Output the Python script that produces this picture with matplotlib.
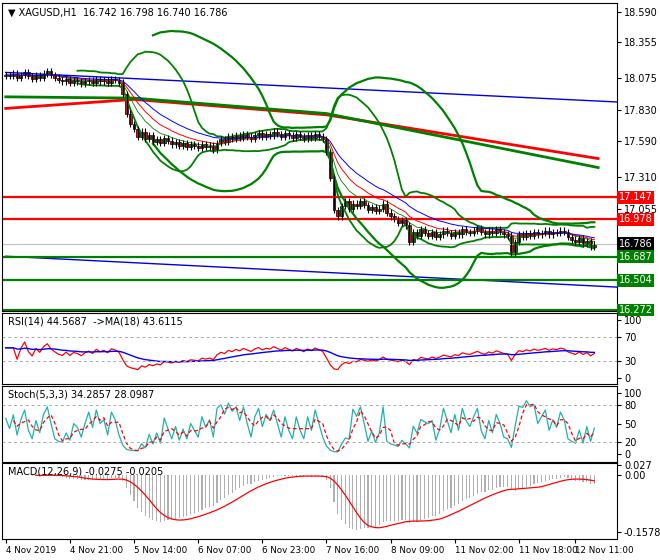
import numpy as np
import matplotlib
matplotlib.use('Agg')
import matplotlib.pyplot as plt

# closing prices, one per H1 bar
closes = [18.10, 18.09, 18.11, 18.08, 18.10, 18.12, 18.09, 18.07, 18.10, 18.08, 18.11, 18.13, 18.10, 18.08, 18.06, 18.05,
          18.07, 18.04, 18.06, 18.05, 18.03, 18.05, 18.06, 18.04, 18.07, 18.05, 18.06, 18.04, 18.07, 18.06, 18.04,
          17.95, 17.80, 17.72, 17.68, 17.62, 17.66, 17.60, 17.63, 17.58, 17.60,
          17.57, 17.61, 17.59, 17.56, 17.58, 17.55, 17.57, 17.54, 17.56, 17.55, 17.53, 17.56, 17.54, 17.55, 17.52,
          17.57, 17.60, 17.58, 17.62, 17.60,
          17.63, 17.61, 17.64, 17.62, 17.60, 17.63, 17.65, 17.62, 17.64, 17.63, 17.66, 17.64, 17.62, 17.65, 17.63,
          17.61, 17.64, 17.62, 17.60, 17.63, 17.61, 17.64, 17.62, 17.60,
          17.50, 17.30, 17.05, 17.00, 17.08, 17.12, 17.06, 17.10, 17.08, 17.12, 17.09,
          17.05, 17.07, 17.04, 17.06, 17.10, 17.03, 17.00, 16.98, 16.95, 16.97, 16.93, 16.80, 16.88, 16.85, 16.90,
          16.87, 16.85, 16.88, 16.84, 16.86, 16.89, 16.87, 16.85, 16.88, 16.86, 16.90, 16.88, 16.87, 16.89, 16.91,
          16.88, 16.86, 16.89, 16.87, 16.90, 16.88, 16.86, 16.85,
          16.72, 16.80, 16.86, 16.84, 16.87, 16.85, 16.88, 16.86, 16.87, 16.89, 16.86, 16.88, 16.87, 16.89, 16.88,
          16.84, 16.82, 16.80, 16.83, 16.79, 16.81, 16.76, 16.786]
first_open = 18.09

date_idx = [0, 17, 34, 51, 68, 85, 102, 119, 136, 151]
date_labels = ['4 Nov 2019', '4 Nov 21:00', '5 Nov 14:00', '6 Nov 07:00', '6 Nov 23:00',
               '7 Nov 16:00', '8 Nov 09:00', '11 Nov 02:00', '11 Nov 18:00', '12 Nov 11:00']

# drawn objects on the price chart
blue_trend_x, blue_trend_y = [0, 162], [18.12, 17.89]
blue_low_x, blue_low_y = [0, 162], [16.69, 16.45]
red_ma_x, red_ma_y = [0, 34, 85, 157], [17.84, 17.91, 17.79, 17.45]
green_ma_x, green_ma_y = [0, 34, 85, 157], [17.93, 17.92, 17.80, 17.38]
red_levels = [17.147, 16.978]
green_levels = [16.687, 16.504, 16.272]
plain_ticks = [18.590, 18.355, 18.075, 17.830, 17.590, 17.310, 17.055]
last_price = 16.786

c = np.array(closes)
n = len(c)
o = np.concatenate([[first_open], c[:-1]])
h = np.maximum(o, c) + 0.025
l = np.minimum(o, c) - 0.025
x = np.arange(n)


def sma(a, p):
    out = np.full(len(a), np.nan)
    for i in range(p - 1, len(a)):
        out[i] = a[i - p + 1:i + 1].mean()
    return out


def ema(a, p):
    out = np.zeros(len(a))
    k = 2 / (p + 1)
    out[0] = a[0]
    for i in range(1, len(a)):
        out[i] = a[i] * k + out[i - 1] * (1 - k)
    return out


def bands(a, p, d):
    m = sma(a, p)
    s = np.full(len(a), np.nan)
    for i in range(p - 1, len(a)):
        s[i] = a[i - p + 1:i + 1].std()
    return m + d * s, m - d * s


W, H = 660, 560
fig = plt.figure(figsize=(6.6, 5.6), dpi=100)
fig.patch.set_facecolor('white')
right = 617


def mk(top, bot):
    ax = fig.add_axes([2 / W, 1 - bot / H, (right - 2) / W, (bot - top) / H])
    ax.set_xlim(-1, 162)
    ax.set_xticks([])
    ax.yaxis.tick_right()
    ax.tick_params(axis='y', labelsize=7, length=3, pad=2)
    for s in ax.spines.values():
        s.set_linewidth(0.8)
    return ax


ax = mk(3, 311)
ax.set_ylim(16.264, 18.66)
ax.set_yticks(plain_ticks)
ax.set_yticklabels(['%.3f' % t for t in plain_ticks])

ax.plot(blue_trend_x, blue_trend_y, color='#0000dd', lw=1)
ax.plot(blue_low_x, blue_low_y, color='#0000dd', lw=1)
ax.plot(red_ma_x, red_ma_y, color='red', lw=2)
ax.plot(green_ma_x, green_ma_y, color='green', lw=2)
for v in red_levels:
    ax.axhline(v, color='red', lw=1.6)
for v in green_levels:
    ax.axhline(v, color='green', lw=1.6)
ax.axhline(last_price, color='#c0c0c0', lw=0.8)

up1, lo1 = bands(c, 20, 2)
up2, lo2 = bands(c, 40, 2.5)
ax.plot(x, up1, color='green', lw=1.3)
ax.plot(x, lo1, color='green', lw=1.3)
ax.plot(x, up2, color='green', lw=1.6)
ax.plot(x, lo2, color='green', lw=1.6)
ax.plot(x, ema(c, 8), color='green', lw=0.6)
ax.plot(x, ema(c, 13), color='red', lw=0.7)
ax.plot(x, ema(c, 21), color='blue', lw=0.7)

for i in range(n):
    ax.vlines(i, l[i], h[i], color='black', lw=0.8)
    col = 'green' if c[i] >= o[i] else 'red'
    ax.bar(i, max(abs(c[i] - o[i]), 0.006), bottom=min(o[i], c[i]), width=0.75,
           color=col, edgecolor='black', lw=0.5)

ax.text(0.01, 0.985, '\u25bc XAGUSD,H1  16.742 16.798 16.740 16.786', transform=ax.transAxes,
        fontsize=7, va='top', ha='left')
boxes = [(17.147, 'red'), (16.978, 'red'), (last_price, 'black'), (16.687, 'green'),
         (16.504, 'green'), (16.272, 'green')]
for v, col in boxes:
    ax.text(1.003, v, '%.3f' % v, transform=ax.get_yaxis_transform(), fontsize=7, color='white',
            va='center', ha='left', bbox=dict(boxstyle='square,pad=0.15', fc=col, ec='none'))

# RSI
ax2 = mk(313, 384)
ax2.set_ylim(-10.3, 112)
ax2.set_yticks([0, 30, 70, 100])
d = np.diff(c, prepend=c[0])
gain = ema(np.clip(d, 0, None), 27)
loss = ema(np.clip(-d, 0, None), 27)
rsi = 100 - 100 / (1 + gain / np.maximum(loss, 1e-9))
rsi[:3] = 52
ax2.plot(x, rsi, color='red', lw=0.9)
ax2.plot(x, ema(rsi, 18), color='blue', lw=1)
for v in (30, 70):
    ax2.axhline(v, color='#aaaaaa', lw=0.7, ls=(0, (3, 3)))
ax2.text(0.01, 0.95, 'RSI(14) 44.5687  ->MA(18) 43.6115', transform=ax2.transAxes, fontsize=7, va='top')

# Stochastic
ax3 = mk(386, 462)
ax3.set_ylim(-13, 111.5)
ax3.set_yticks([0, 20, 50, 80, 100])
ll = np.array([l[max(0, i - 4):i + 1].min() for i in range(n)])
hh = np.array([h[max(0, i - 4):i + 1].max() for i in range(n)])
k = 100 * (c - ll) / (hh - ll)
dline = sma(k, 3)
ax3.plot(x, k, color='#20b2aa', lw=0.9)
ax3.plot(x, dline, color='red', lw=0.9, ls=(0, (3, 2)))
for v in (20, 80):
    ax3.axhline(v, color='#aaaaaa', lw=0.7, ls=(0, (3, 3)))
ax3.text(0.01, 0.95, 'Stoch(5,3,3) 34.2857 28.0987', transform=ax3.transAxes, fontsize=7, va='top')

# MACD
ax4 = mk(463, 539)
ax4.set_ylim(-0.177, 0.033)
ax4.set_yticks([0.027, 0.0, -0.1578])
ax4.set_yticklabels(['0.027', '0.00', '-0.1578'])
macd = ema(c, 12) - ema(c, 26)
sig = sma(macd, 9)
ax4.bar(x, macd, width=0.3, color='#b0b0b0')
ax4.plot(x, sig, color='red', lw=0.9)
ax4.text(0.01, 0.95, 'MACD(12,26,9) -0.0275 -0.0205', transform=ax4.transAxes, fontsize=7, va='top')
ax4.set_xticks(date_idx)
ax4.set_xticklabels(date_labels, fontsize=6.3, ha='left')
ax4.tick_params(axis='x', length=3, pad=2)

fig.savefig('out.png', dpi=100)
